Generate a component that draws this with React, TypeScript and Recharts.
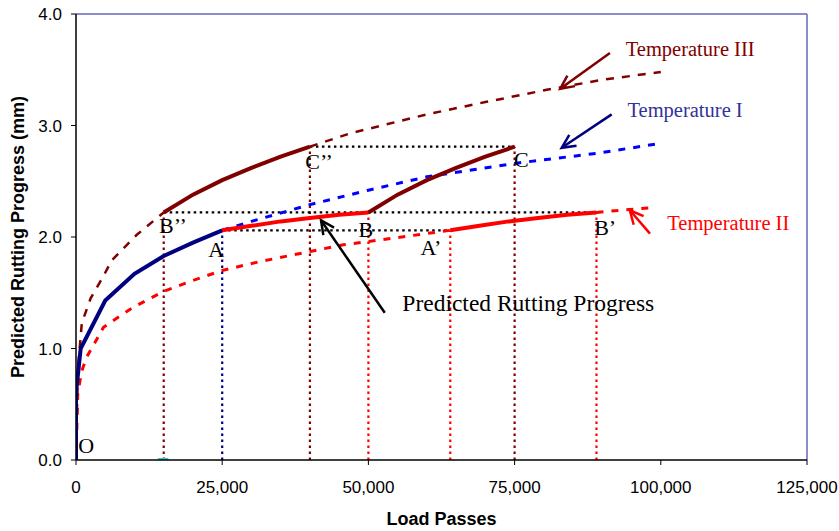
import React from "react";
import {
  Label,
  Line,
  LineChart,
  ReferenceDot,
  ReferenceLine,
  XAxis,
  YAxis,
} from "recharts";

// axis ticks
const xTicks = [0, 25000, 50000, 75000, 100000, 125000];
const yTicks = [0, 1, 2, 3, 4];

// Temperature I (navy solid O -> A, blue dashed projection)
const tempISolid = [
  { x: 0, y: 0 },
  { x: 0, y: 0.6 },
  { x: 800, y: 1.0 },
  { x: 5000, y: 1.43 },
  { x: 10000, y: 1.67 },
  { x: 15000, y: 1.83 },
  { x: 20000, y: 1.95 },
  { x: 25000, y: 2.06 },
];
const tempIDashed = [
  { x: 25000, y: 2.06 },
  { x: 30000, y: 2.14 },
  { x: 40000, y: 2.29 },
  { x: 50000, y: 2.42 },
  { x: 60000, y: 2.54 },
  { x: 75000, y: 2.66 },
  { x: 89000, y: 2.75 },
  { x: 100000, y: 2.84 },
];

// Temperature II (red)
const tempIIDashed = [
  { x: 0, y: 0 },
  { x: 300, y: 0.6 },
  { x: 1000, y: 0.8 },
  { x: 1800, y: 0.92 },
  { x: 4700, y: 1.19 },
  { x: 7200, y: 1.28 },
  { x: 9800, y: 1.37 },
  { x: 14900, y: 1.51 },
  { x: 20000, y: 1.61 },
  { x: 25000, y: 1.7 },
  { x: 31500, y: 1.78 },
  { x: 40000, y: 1.87 },
  { x: 45700, y: 1.93 },
  { x: 51500, y: 1.97 },
  { x: 57000, y: 2.01 },
  { x: 64000, y: 2.06 },
];
const tempIIDashedTail = [
  { x: 89000, y: 2.22 },
  { x: 93000, y: 2.24 },
  { x: 98000, y: 2.26 },
];
const tempIISolidAB = [
  { x: 25000, y: 2.06 },
  { x: 30000, y: 2.1 },
  { x: 35000, y: 2.14 },
  { x: 40000, y: 2.17 },
  { x: 45000, y: 2.2 },
  { x: 50000, y: 2.22 },
];
const tempIISolidA2B2 = [
  { x: 64000, y: 2.06 },
  { x: 69000, y: 2.1 },
  { x: 74000, y: 2.14 },
  { x: 79000, y: 2.17 },
  { x: 84000, y: 2.2 },
  { x: 89000, y: 2.22 },
];

// Temperature III (dark red)
const tempIIIDashed = [
  { x: 0, y: 0 },
  { x: 300, y: 0.8 },
  { x: 1000, y: 1.23 },
  { x: 2500, y: 1.45 },
  { x: 4600, y: 1.64 },
  { x: 6100, y: 1.79 },
  { x: 10400, y: 2.02 },
  { x: 15000, y: 2.22 },
];
const tempIIIDashedTail = [
  { x: 40000, y: 2.81 },
  { x: 46900, y: 2.93 },
  { x: 50000, y: 2.97 },
  { x: 60000, y: 3.1 },
  { x: 70000, y: 3.21 },
  { x: 80500, y: 3.32 },
  { x: 90000, y: 3.41 },
  { x: 100000, y: 3.48 },
];
const tempIIISolidB2C2 = [
  { x: 15000, y: 2.22 },
  { x: 20000, y: 2.38 },
  { x: 25000, y: 2.51 },
  { x: 30000, y: 2.62 },
  { x: 35000, y: 2.72 },
  { x: 40000, y: 2.81 },
];
const tempIIISolidBC = [
  { x: 50000, y: 2.22 },
  { x: 55000, y: 2.38 },
  { x: 60000, y: 2.51 },
  { x: 65000, y: 2.62 },
  { x: 70000, y: 2.72 },
  { x: 75000, y: 2.81 },
];
const cyanMark = [
  { x: 14000, y: 0 },
  { x: 15800, y: 0 },
];

// dotted guides
const hGuides = [
  { y: 2.81, x1: 40000, x2: 75000 },
  { y: 2.22, x1: 15000, x2: 89000 },
  { y: 2.06, x1: 25000, x2: 64000 },
];
const vGuides = [
  { x: 15000, y: 2.22, temp: "III" },
  { x: 25000, y: 2.06, temp: "I" },
  { x: 40000, y: 2.81, temp: "III" },
  { x: 50000, y: 2.22, temp: "II" },
  { x: 64000, y: 2.06, temp: "II" },
  { x: 75000, y: 2.81, temp: "III" },
  { x: 89000, y: 2.22, temp: "II" },
];

// annotation text (anchored at start / baseline)
const pointLabels = [
  { text: "O", x: 400, y: 0.06 },
  { text: "B\u2019\u2019", x: 14200, y: 2.04 },
  { text: "A", x: 22600, y: 1.82 },
  { text: "C\u2019\u2019", x: 39200, y: 2.61 },
  { text: "B", x: 48300, y: 2.0 },
  { text: "A\u2019", x: 58900, y: 1.84 },
  { text: "C", x: 74900, y: 2.63 },
  { text: "B\u2019", x: 88600, y: 2.02 },
];
const seriesLabels = [
  { text: "Temperature III", x: 94000, y: 3.62, temp: "III" },
  { text: "Temperature I", x: 94300, y: 3.08, temp: "I" },
  { text: "Temperature II", x: 101100, y: 2.06, temp: "II" },
  { text: "Predicted Rutting Progress", x: 55800, y: 1.34, temp: "" },
];
const arrows = [
  { from: { x: 52800, y: 1.32 }, to: { x: 41900, y: 2.15 }, temp: "" },
  { from: { x: 91300, y: 3.65 }, to: { x: 82800, y: 3.33 }, temp: "III" },
  { from: { x: 91600, y: 3.1 }, to: { x: 83050, y: 2.8 }, temp: "I" },
  { from: { x: 98150, y: 2.03 }, to: { x: 94700, y: 2.24 }, temp: "II" },
];

const guideColor: Record<string, string> = {
  I: "#000080",
  II: "#ff0000",
  III: "#800000",
};
const textColor: Record<string, string> = {
  I: "#333399",
  II: "#ff0000",
  III: "#800000",
  "": "#000000",
};
const arrowColor: Record<string, string> = {
  I: "#000080",
  II: "#ff0000",
  III: "#800000",
  "": "#000000",
};

const serif = "'Liberation Serif', 'Times New Roman', serif";
const sans = "'Liberation Sans', Arial, sans-serif";

const Arrow = (props: any) => {
  const { x1, y1, x2, y2, stroke } = props;
  const a = Math.atan2(y2 - y1, x2 - x1);
  const len = 15;
  const spread = 0.45;
  const w1x = x2 - len * Math.cos(a - spread);
  const w1y = y2 - len * Math.sin(a - spread);
  const w2x = x2 - len * Math.cos(a + spread);
  const w2y = y2 - len * Math.sin(a + spread);
  return (
    <g>
      <line x1={x1} y1={y1} x2={x2} y2={y2} stroke={stroke} strokeWidth={2.5} />
      <polyline
        points={`${w1x},${w1y} ${x2},${y2} ${w2x},${w2y}`}
        fill="none"
        stroke={stroke}
        strokeWidth={2.5}
      />
    </g>
  );
};

const App = () => {
  return (
    <div style={{ position: "absolute", left: 0, top: 0, background: "#fff" }}>
      <LineChart
        width={839}
        height={531}
        margin={{ top: 14, right: 32, left: 0, bottom: 0 }}
      >
        <XAxis
          dataKey="x"
          type="number"
          domain={[0, 125000]}
          ticks={xTicks}
          allowDataOverflow
          tickFormatter={(v: number) => v.toLocaleString("en-US")}
          tick={{ fill: "#000", fontSize: 17, fontFamily: sans }}
          axisLine={{ stroke: "#000", strokeWidth: 1.5 }}
          tickLine={{ stroke: "#000" }}
          tickSize={5}
          tickMargin={16}
          height={71}
        >
          <Label
            content={({ viewBox }: any) => (
              <text
                x={viewBox.x + viewBox.width / 2}
                y={viewBox.y + 65}
                textAnchor="middle"
                fontFamily={sans}
                fontWeight="bold"
                fontSize={18}
                fill="#000"
              >
                Load Passes
              </text>
            )}
          />
        </XAxis>
        <YAxis
          dataKey="y"
          type="number"
          domain={[0, 4]}
          ticks={yTicks}
          allowDataOverflow
          tickFormatter={(v: number) => v.toFixed(1)}
          tick={{ fill: "#000", fontSize: 17, fontFamily: sans }}
          axisLine={{ stroke: "#000", strokeWidth: 1.5 }}
          tickLine={{ stroke: "#000" }}
          tickSize={5}
          tickMargin={9}
          width={76}
        >
          <Label
            content={({ viewBox }: any) => {
              const cx = viewBox.x + 18;
              const cy = viewBox.y + viewBox.height / 2;
              return (
                <text
                  x={cx}
                  y={cy}
                  transform={`rotate(-90, ${cx}, ${cy})`}
                  textAnchor="middle"
                  dominantBaseline="central"
                  fontFamily={sans}
                  fontWeight="bold"
                  fontSize={18}
                  fill="#000"
                >
                  Predicted Rutting Progress (mm)
                </text>
              );
            }}
          />
        </YAxis>

        {/* plot border */}
        <ReferenceLine y={4} stroke="#6666bb" strokeWidth={1.5} />
        <ReferenceLine x={125000} stroke="#6666bb" strokeWidth={1.5} />

        {vGuides.map((g, i) => (
          <ReferenceLine
            key={`v${i}`}
            segment={[
              { x: g.x, y: 0 },
              { x: g.x, y: g.y },
            ]}
            stroke={guideColor[g.temp]}
            strokeWidth={2.2}
            strokeDasharray="2.5 3.5"
          />
        ))}
        {hGuides.map((g, i) => (
          <ReferenceLine
            key={`h${i}`}
            segment={[
              { x: g.x1, y: g.y },
              { x: g.x2, y: g.y },
            ]}
            stroke="#000"
            strokeWidth={2.2}
            strokeDasharray="2.5 3.5"
          />
        ))}

        <Line data={tempIIDashed} dataKey="y" type="linear" stroke="#ff0000" strokeWidth={3} strokeDasharray="7 8" dot={false} activeDot={false} isAnimationActive={false} />
        <Line data={tempIIDashedTail} dataKey="y" type="linear" stroke="#ff0000" strokeWidth={3} strokeDasharray="7 8" dot={false} activeDot={false} isAnimationActive={false} />
        <Line data={tempIIIDashed} dataKey="y" type="linear" stroke="#800000" strokeWidth={2.5} strokeDasharray="8 8" dot={false} activeDot={false} isAnimationActive={false} />
        <Line data={tempIIIDashedTail} dataKey="y" type="linear" stroke="#800000" strokeWidth={2.5} strokeDasharray="8 8" dot={false} activeDot={false} isAnimationActive={false} />
        <Line data={tempIDashed} dataKey="y" type="linear" stroke="#0000ff" strokeWidth={3} strokeDasharray="7 8" dot={false} activeDot={false} isAnimationActive={false} />
        <Line data={tempISolid} dataKey="y" type="linear" stroke="#000080" strokeWidth={4} dot={false} activeDot={false} isAnimationActive={false} />
        <Line data={tempIIISolidB2C2} dataKey="y" type="linear" stroke="#800000" strokeWidth={4} dot={false} activeDot={false} isAnimationActive={false} />
        <Line data={tempIIISolidBC} dataKey="y" type="linear" stroke="#800000" strokeWidth={4} dot={false} activeDot={false} isAnimationActive={false} />
        <Line data={tempIISolidAB} dataKey="y" type="linear" stroke="#ff0000" strokeWidth={4} dot={false} activeDot={false} isAnimationActive={false} />
        <Line data={tempIISolidA2B2} dataKey="y" type="linear" stroke="#ff0000" strokeWidth={4} dot={false} activeDot={false} isAnimationActive={false} />
        <Line data={cyanMark} dataKey="y" type="linear" stroke="#33cccc" strokeWidth={4} dot={false} activeDot={false} isAnimationActive={false} />

        {arrows.map((a, i) => (
          <ReferenceLine
            key={`a${i}`}
            segment={[a.from, a.to]}
            stroke={arrowColor[a.temp]}
            shape={(p: any) => <Arrow {...p} stroke={arrowColor[a.temp]} />}
          />
        ))}

        {pointLabels.map((l, i) => (
          <ReferenceDot
            key={`p${i}`}
            x={l.x}
            y={l.y}
            r={0}
            shape={(p: any) => (
              <text x={p.cx} y={p.cy} fontFamily={serif} fontSize={22} fill="#000">
                {l.text}
              </text>
            )}
          />
        ))}
        {seriesLabels.map((l, i) => (
          <ReferenceDot
            key={`s${i}`}
            x={l.x}
            y={l.y}
            r={0}
            shape={(p: any) => (
              <text
                x={p.cx}
                y={p.cy}
                fontFamily={serif}
                fontSize={l.temp === "" ? 23.5 : 20.5}
                fill={textColor[l.temp]}
              >
                {l.text}
              </text>
            )}
          />
        ))}
      </LineChart>
    </div>
  );
};

export default App;
